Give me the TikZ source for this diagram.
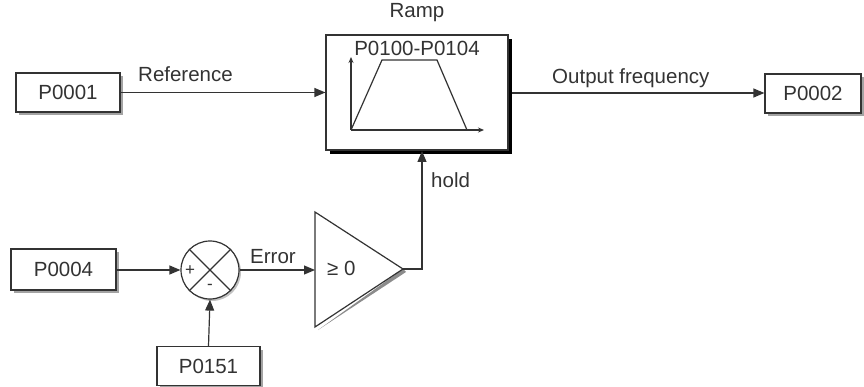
\documentclass[tikz,border=0pt]{standalone}
\usepackage{fontspec}
\setmainfont{Liberation Sans}
\usetikzlibrary{arrows.meta,shadows}
\definecolor{ink}{HTML}{333333}
\begin{document}
\begin{tikzpicture}[x=1pt,y=-1pt,
  font=\fontsize{20.5}{24}\selectfont,
  every node/.style={text=ink},
  line/.style={draw=ink,line width=1.2pt},
  arr/.style={line,-{Triangle[length=11pt,width=9pt]}},
  pbox/.style={rectangle,draw=ink,line width=1.2pt,fill=white,inner sep=0pt,
    drop shadow={shadow xshift=3pt,shadow yshift=-3pt,fill=black!45,opacity=0.8}},
  lbl/.style={inner sep=0pt}
]
\useasboundingbox (0,0) rectangle (864,387);

% boxes
\node[pbox,minimum width=104pt,minimum height=39pt] (p1) at (68,92.5) {P0001};
\node[pbox,minimum width=96pt,minimum height=39pt] (p2) at (813,93.5) {P0002};
\node[pbox,minimum width=105pt,minimum height=41pt] (p4) at (63.5,269.5) {P0004};
\node[pbox,minimum width=103pt,minimum height=39pt] (p151) at (208.5,366) {P0151};

% ramp block
\fill[black] (330,39) rectangle (512,154);
\node[rectangle,draw=ink,line width=1.2pt,fill=white,minimum width=182pt,minimum height=115pt,inner sep=0pt] (ramp) at (417,92.5) {};
\node[lbl] (rampt) at (417,13) {Ramp};
\node[lbl] (rampp) at (417,48) {P0100-P0104};
\draw[line,-{Stealth[length=6pt,width=5pt]}] (351,130) -- (351,57);
\draw[line,-{Stealth[length=6pt,width=5pt]}] (351,130) -- (484,130);
\draw[line] (351,130) -- (382,60) -- (437,60) -- (467,130);
\coordinate (rampout) at (512,93);

% summing junction
\node[circle,draw=ink,line width=1.2pt,fill=white,minimum size=58pt,inner sep=0pt,
  drop shadow={shadow xshift=2pt,shadow yshift=-2pt,fill=black!40,opacity=0.6}] (sum) at (210,270) {};
\draw[line] (sum.north west) -- (sum.south east);
\draw[line] (sum.north east) -- (sum.south west);
\node[lbl,font=\fontsize{17}{20}\selectfont] (plus) at (190,271) {+};
\node[lbl,font=\fontsize{17}{20}\selectfont] (minus) at (210,287) {-};

% comparator triangle
\fill[black!45] (318,330) -- (406,272) -- (403,269) -- cycle;
\draw[line,fill=white,line join=miter] (315,212) -- (315,327) -- (403,269) -- cycle;
\coordinate (trin) at (315,270);
\coordinate (triapex) at (403,269);
\node[lbl,anchor=west] (ge) at (327,268) {≥ 0};

% connectors
\draw[arr] (p1.east) -- (ramp.west |- p1.east);
\node[lbl,anchor=base west] (reft) at (138,82) {Reference};
\draw[arr] (rampout) -- (p2.west |- rampout);
\node[lbl,anchor=base west] (outt) at (552,84) {Output frequency};
\draw[arr] (p4.east |- sum.west) -- (sum.west);
\draw[arr] (p151.north) -- (sum.south);
\draw[arr] (sum.east) -- (trin);
\node[lbl,anchor=base west] (errt) at (250,263) {Error};
\draw[arr] (triapex) -- (422,269) -- (422,151);
\node[lbl,anchor=base west] (holdt) at (431,188) {hold};
\end{tikzpicture}
\end{document}
